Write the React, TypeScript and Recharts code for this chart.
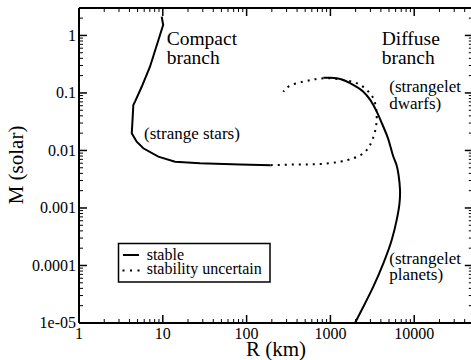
import React from "react";
import { LineChart, Line, XAxis, YAxis } from "recharts";

// ---- data (R in km, M in solar masses) ----
const compactStable = [
  { r: 9.7, m: 2.12 }, { r: 10.1, m: 1.52 }, { r: 9.26, m: 1.02 }, { r: 7.03, m: 0.286 },
  { r: 5.6, m: 0.128 }, { r: 4.66, m: 0.0708 }, { r: 4.45, m: 0.0618 }, { r: 4.33, m: 0.0295 },
  { r: 4.26, m: 0.0199 }, { r: 4.88, m: 0.0142 }, { r: 5.85, m: 0.0109 }, { r: 8.84, m: 0.0078 },
  { r: 14, m: 0.00638 }, { r: 27.8, m: 0.006 }, { r: 83.4, m: 0.00572 }, { r: 194, m: 0.00553 },
];

const uncertain = [
  { r: 194, m: 0.00555 }, { r: 400, m: 0.0057 }, { r: 751, m: 0.0058 }, { r: 1303, m: 0.00638 },
  { r: 1877, m: 0.00731 }, { r: 2470, m: 0.00894 }, { r: 2970, m: 0.0124 }, { r: 3405, m: 0.0212 },
  { r: 3570, m: 0.0363 }, { r: 3500, m: 0.0544 }, { r: 3250, m: 0.081 }, { r: 2710, m: 0.113 },
  { r: 2060, m: 0.148 }, { r: 1426, m: 0.168 }, { r: 989, m: 0.18 }, { r: 686, m: 0.175 },
  { r: 475, m: 0.157 }, { r: 330, m: 0.134 }, { r: 274, m: 0.105 },
];

const diffuseStable = [
  { r: 823, m: 0.184 }, { r: 1000, m: 0.184 }, { r: 1189, m: 0.18 }, { r: 1450, m: 0.166 },
  { r: 1714, m: 0.148 }, { r: 2100, m: 0.125 }, { r: 2470, m: 0.105 }, { r: 3000, m: 0.075 },
  { r: 3570, m: 0.0473 }, { r: 4100, m: 0.03 }, { r: 4700, m: 0.0186 }, { r: 5140, m: 0.0125 },
  { r: 5600, m: 0.008 }, { r: 6150, m: 0.0056 }, { r: 6500, m: 0.00375 }, { r: 6770, m: 0.00206 },
  { r: 6640, m: 0.00113 }, { r: 6180, m: 0.00062 }, { r: 5390, m: 0.000278 }, { r: 4280, m: 0.000109 },
  { r: 3250, m: 4.28e-5 }, { r: 2470, m: 1.92e-5 }, { r: 1966, m: 1e-5 },
];

const xDomain = [1, 50000];
const yDomain = [1e-5, 3];
const xMajor = [1, 10, 100, 1000, 10000];
const xTickLabels = ["1", "10", "100", "1000", "10000"];
const yMajor = [1e-5, 1e-4, 1e-3, 1e-2, 1e-1, 1];
const yTickLabels = ["1e-05", "0.0001", "0.001", "0.01", "0.1", "1"];
const minorMult = [2, 3, 4, 5, 6, 7, 8, 9];

const withMinor = (majors: number[], lo: number, hi: number) => {
  const out: number[] = [];
  majors.forEach((d) => {
    out.push(d);
    minorMult.forEach((k) => out.push(d * k));
  });
  return out.filter((v) => v >= lo * 0.999 && v <= hi * 1.001);
};
const xTicks = withMinor(xMajor, xDomain[0], xDomain[1]);
const yTicks = withMinor(yMajor, yDomain[0], yDomain[1]);

const FONT = "Liberation Serif";
const fs = (size: number) => ({ fontFamily: FONT, fontSize: size });

const majorIndex = (v: number, majors: number[]) =>
  majors.findIndex((m) => Math.abs(Math.log10(v) - Math.log10(m)) < 1e-6);

const BottomTick = (p: any) => {
  const i = majorIndex(p.payload.value, xMajor);
  const major = i >= 0;
  return (
    <g>
      <line x1={p.x} x2={p.x} y1={p.y} y2={p.y - (major ? 8 : 4)} stroke="#000" strokeWidth={major ? 1.5 : 1} />
      {major && (
        <text x={p.x} y={p.y + 15.5} textAnchor="middle" style={fs(16)} fill="#000">
          {xTickLabels[i]}
        </text>
      )}
    </g>
  );
};
const TopTick = (p: any) => {
  const major = majorIndex(p.payload.value, xMajor) >= 0;
  return <line x1={p.x} x2={p.x} y1={p.y} y2={p.y + (major ? 8 : 4)} stroke="#000" strokeWidth={major ? 1.5 : 1} />;
};
const LeftTick = (p: any) => {
  const i = majorIndex(p.payload.value, yMajor);
  const major = i >= 0;
  return (
    <g>
      <line x1={p.x} x2={p.x + (major ? 8 : 4)} y1={p.y} y2={p.y} stroke="#000" strokeWidth={major ? 1.5 : 1} />
      {major && (
        <text x={p.x - 3} y={p.y} dy="0.33em" textAnchor="end" style={fs(16)} fill="#000">
          {yTickLabels[i]}
        </text>
      )}
    </g>
  );
};
const RightTick = (p: any) => {
  const major = majorIndex(p.payload.value, yMajor) >= 0;
  return <line x1={p.x} x2={p.x - (major ? 8 : 4)} y1={p.y} y2={p.y} stroke="#000" strokeWidth={major ? 1.5 : 1} />;
};

const axisLine = { stroke: "#000", strokeWidth: 2 };

export default function App() {
  return (
    <div style={{ position: "absolute", left: 0, top: 0, width: 471, height: 360, overflow: "hidden", background: "#fff" }}>
      <LineChart width={480} height={360} margin={{ top: 7, right: 6.2, bottom: 36, left: 78 }}>
        <XAxis xAxisId={0} type="number" dataKey="r" scale="log" domain={xDomain} allowDataOverflow ticks={xTicks}
          interval={0} tick={<BottomTick />} tickLine={false} tickSize={0} tickMargin={0} height={1} axisLine={axisLine} />
        <XAxis xAxisId="top" orientation="top" type="number" dataKey="r" scale="log" domain={xDomain} allowDataOverflow ticks={xTicks}
          interval={0} tick={<TopTick />} tickLine={false} tickSize={0} tickMargin={0} height={1} axisLine={axisLine} />
        <YAxis yAxisId={0} type="number" dataKey="m" scale="log" domain={yDomain} allowDataOverflow ticks={yTicks}
          interval={0} tick={<LeftTick />} tickLine={false} tickSize={0} tickMargin={0} width={1} axisLine={axisLine} />
        <YAxis yAxisId="right" orientation="right" type="number" dataKey="m" scale="log" domain={yDomain} allowDataOverflow ticks={yTicks}
          interval={0} tick={<RightTick />} tickLine={false} tickSize={0} tickMargin={0} width={1} axisLine={axisLine} />
        <Line data={uncertain} dataKey="m" type="natural" stroke="#000" strokeWidth={2} strokeDasharray="2 5" dot={false} isAnimationActive={false} />
        <Line data={compactStable} dataKey="m" type="linear" stroke="#000" strokeWidth={2} dot={false} isAnimationActive={false} />
        <Line data={diffuseStable} dataKey="m" type="natural" stroke="#000" strokeWidth={2} dot={false} isAnimationActive={false} />
      </LineChart>
      <svg width={471} height={360} style={{ position: "absolute", left: 0, top: 0, pointerEvents: "none", fontFamily: FONT }} fill="#000">
        <text x={166.7} y={45} style={fs(19.5)}>Compact</text>
        <text x={166.7} y={63.5} style={fs(19.5)}>branch</text>
        <text x={144} y={138.5} style={fs(17)}>(strange stars)</text>
        <text x={381.7} y={45} style={fs(19.5)}>Diffuse</text>
        <text x={381.7} y={63.5} style={fs(19.5)}>branch</text>
        <text x={389.3} y={92} style={fs(17)}>(strangelet</text>
        <text x={389.3} y={108.5} style={fs(17)}>dwarfs)</text>
        <text x={389.3} y={264} style={fs(17)}>(strangelet</text>
        <text x={389.3} y={280} style={fs(17)}>planets)</text>
        <text x={276} y={355.5} style={fs(21)} textAnchor="middle">R (km)</text>
        <text x={23} y={165} style={fs(21)} textAnchor="middle" transform="rotate(-90 23 165)">M (solar)</text>
        <rect x={118.5} y={243.5} width={151.5} height={38.5} fill="#fff" stroke="#000" strokeWidth={1.5} />
        <line x1={123} x2={139} y1={255} y2={255} stroke="#000" strokeWidth={2} />
        <line x1={122.5} x2={140} y1={270.5} y2={270.5} stroke="#000" strokeWidth={2} strokeDasharray="2 5.5" />
        <text x={146.7} y={259.5} style={fs(16)}>stable</text>
        <text x={146.7} y={274} style={fs(16)}>stability uncertain</text>
      </svg>
    </div>
  );
}
